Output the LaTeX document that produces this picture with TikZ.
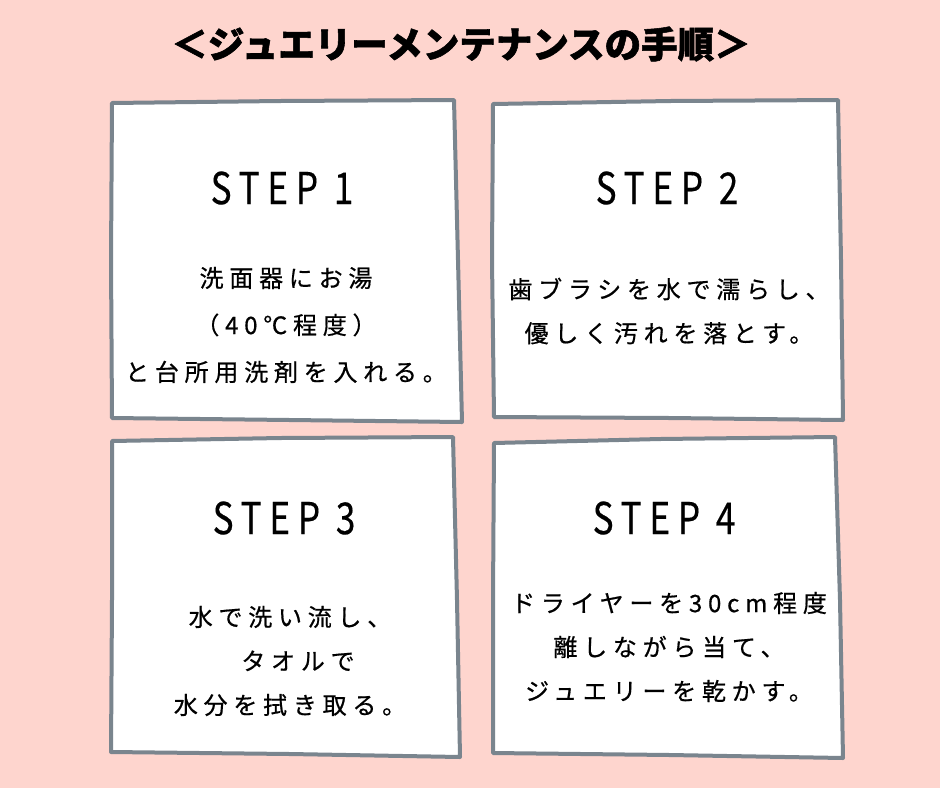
\documentclass[tikz,border=0pt]{standalone}
\usepackage{fontspec}
\newfontfamily\jptitle{Noto Sans CJK JP}[FakeBold=1.5]
\newfontfamily\jpbody{Noto Sans CJK JP}[LetterSpace=24,FakeBold=0.6]
\newfontfamily\jphead{Noto Sans CJK JP}[LetterSpace=22,FakeBold=0.3]
\definecolor{bgpink}{HTML}{FED5CE}
\definecolor{boxgray}{HTML}{7A858E}
\tikzset{
  panel/.style={draw=boxgray, line width=4pt, fill=white, line join=round},
  headtxt/.style={inner sep=0pt, font={\jphead\fontsize{44}{44}\selectfont}},
  bodytxt/.style={inner sep=0pt, align=center, font={\jpbody\fontsize{24}{44}\selectfont}},
  titletxt/.style={inner sep=0pt, font={\jptitle\bfseries\fontsize{36.5}{36.5}\selectfont}}
}
\begin{document}
\begin{tikzpicture}[x=1pt,y=-1pt]
\fill[bgpink] (0,0) rectangle (940,788);
\useasboundingbox (0,0) rectangle (940,788);
% title
\node[titletxt] (title) at (461,44) {＜ジュエリーメンテナンスの手順＞};
% panels
\draw[panel] (112,103) -- (280,101) -- (454,100) -- (458,260) -- (462,422) -- (290,420) -- (112,418) -- (111,260) -- cycle;
\draw[panel] (493,104) -- (670,101) -- (838,100) -- (841,260) -- (843,420) -- (670,418) -- (494,417) -- (492,260) -- cycle;
\draw[panel] (112,441) -- (280,438) -- (453,437) -- (457,600) -- (460,757) -- (290,754) -- (111,752) -- (112,600) -- cycle;
\draw[panel] (494,443) -- (660,439) -- (835,437) -- (840,600) -- (843,758) -- (670,755) -- (493,753) -- (493,600) -- cycle;
% headings
\node[headtxt] (h1) at (282,188) {\scalebox{0.8}[1]{STEP 1}};
\node[headtxt] (h2) at (667,188) {\scalebox{0.8}[1]{STEP 2}};
\node[headtxt] (h3) at (284,518) {\scalebox{0.8}[1]{STEP 3}};
\node[headtxt] (h4) at (664,518) {\scalebox{0.8}[1]{STEP 4}};
% bodies
\node[bodytxt, font={\jpbody\fontsize{24}{47}\selectfont}] (b1) at (286,325) {洗面器にお湯\\（40℃程度）\\と台所用洗剤を入れる。};
\node[bodytxt] (b2) at (669,311) {歯ブラシを水で濡らし、\\優しく汚れを落とす。};
\node[bodytxt] (b3) at (290,661) {水で洗い流し、\\\hspace*{16pt}タオルで\\水分を拭き取る。};
\node[bodytxt] (b4) at (669,647) {ドライヤーを30cm程度\\離しながら当て、\\ジュエリーを乾かす。};
\end{tikzpicture}
\end{document}
